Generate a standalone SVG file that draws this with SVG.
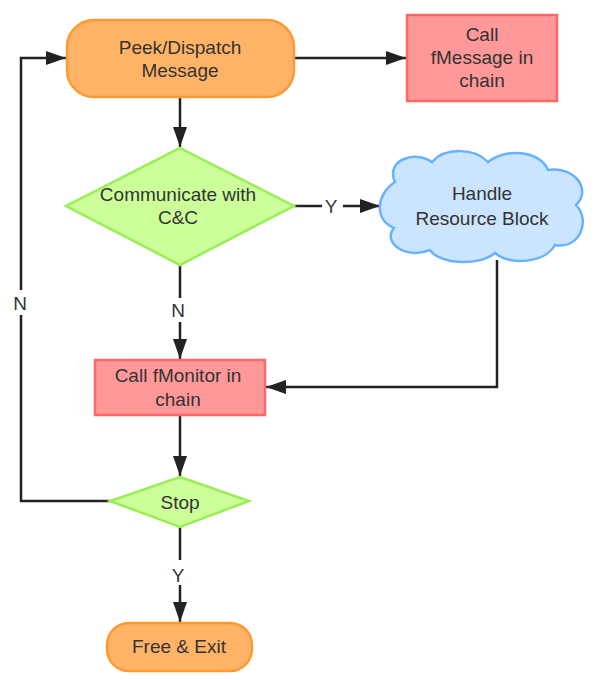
<svg xmlns="http://www.w3.org/2000/svg" width="600" height="680" viewBox="0 0 600 680">
<defs>
<style>
text{font-family:"Liberation Sans",Arial,sans-serif;font-size:19px;fill:#333;text-anchor:middle}
.term{fill:#FFB366;stroke:#FF9933;stroke-width:2.5}
.proc{fill:#FF9999;stroke:#FF6666;stroke-width:2.5}
.dec{fill:#CCFF99;stroke:#99EE55;stroke-width:2.5}
.cloud{fill:#CCE5FF;stroke:#66B2FF;stroke-width:2.5}
.edge{fill:none;stroke:#222;stroke-width:2.5}
</style>
<marker id="ah" markerWidth="20" markerHeight="14" refX="20" refY="7" orient="auto" markerUnits="userSpaceOnUse">
<path d="M0,0 L20,7 L0,14 z" fill="#222"/>
</marker>
</defs>
<rect width="600" height="680" fill="#fff"/>
<g id="connectors">
<path class="edge" d="M294,58 H406" marker-end="url(#ah)"/>
<path class="edge" d="M180,97 V147" marker-end="url(#ah)"/>
<path class="edge" d="M294,206 H322"/>
<path class="edge" d="M343,206 H380" marker-end="url(#ah)"/>
<path class="edge" d="M180,265 V298"/>
<path class="edge" d="M180,322 V359" marker-end="url(#ah)"/>
<path class="edge" d="M497,260 V387 H266" marker-end="url(#ah)"/>
<path class="edge" d="M180,415 V476" marker-end="url(#ah)"/>
<path class="edge" d="M110,501 H21 V315"/>
<path class="edge" d="M21,290 V58 H66" marker-end="url(#ah)"/>
<path class="edge" d="M180,527 V560"/>
<path class="edge" d="M180,585 V622" marker-end="url(#ah)"/>
<text x="331" y="213">Y</text>
<text x="178" y="317">N</text>
<text x="20" y="310">N</text>
<text x="178" y="582">Y</text>
</g>
<g id="peek">
<rect class="term" x="67" y="20" width="227" height="77" rx="27" ry="27"/>
<text x="180" y="54">Peek/Dispatch</text>
<text x="180" y="77">Message</text>
</g>
<g id="fmessage">
<rect class="proc" x="407" y="15" width="150" height="86"/>
<text x="482" y="41">Call</text>
<text x="482" y="64">fMessage in</text>
<text x="482" y="87">chain</text>
</g>
<g id="communicate">
<polygon class="dec" points="180,148 294,206 180,265 66,206"/>
<text x="178" y="201">Communicate with</text>
<text x="178" y="224">C&amp;C</text>
</g>
<g id="handle">
<path class="cloud" d="M395,182 C385,160 415,150 432,162 C445,147 475,148 488,162 C505,148 540,150 548,170 C575,166 592,190 576,205 C592,222 578,250 555,245 C545,263 510,266 495,253 C480,266 440,265 430,250 C405,260 382,242 394,228 C374,220 376,194 395,182 Z"/>
<text x="482" y="200">Handle</text>
<text x="482" y="225">Resource Block</text>
</g>
<g id="fmonitor">
<rect class="proc" x="95" y="360" width="170" height="55"/>
<text x="178" y="382">Call fMonitor in</text>
<text x="178" y="406">chain</text>
</g>
<g id="stop">
<polygon class="dec" points="180,477 249,501 180,527 110,501"/>
<text x="180" y="509">Stop</text>
</g>
<g id="free">
<rect class="term" x="107" y="623" width="145" height="48" rx="22" ry="22"/>
<text x="179" y="653">Free &amp; Exit</text>
</g>
</svg>
